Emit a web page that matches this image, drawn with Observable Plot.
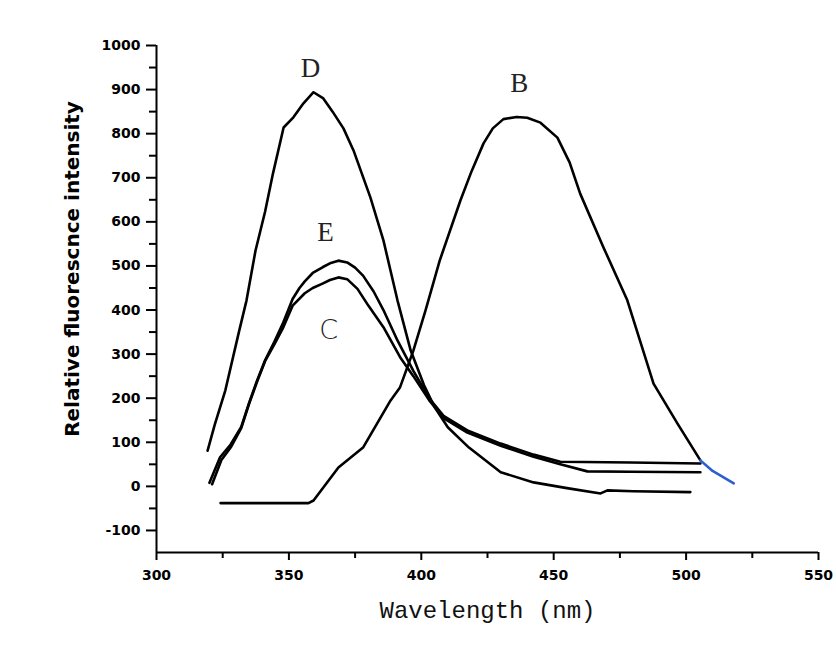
<!DOCTYPE html>
<html>
<head>
<meta charset="utf-8">
<script src="https://cdn.jsdelivr.net/npm/d3@7"></script>
<script src="https://cdn.jsdelivr.net/npm/@observablehq/plot@0.6"></script>
<style>
  html, body { margin: 0; padding: 0; background: #fff; }
  #chart svg { display: block; }
  #chart g[aria-label="x-axis tick label"] text,
  #chart g[aria-label="y-axis tick label"] text {
    font-family: "DejaVu Sans", sans-serif; font-weight: bold; font-size: 14px;
  }
</style>
</head>
<body>
<div id="chart"></div>
<script>
// Curve D
const wlD  = [319.3, 322, 326, 331, 334, 337.4, 341, 344, 348, 351.7, 355.5, 359.3, 363, 366.5, 370.6, 374.4, 380.8, 385.7, 391, 396, 401, 405, 410, 418, 430, 442.4, 455, 467.7, 470.3, 480, 501.6];
const intD = [81, 140, 218, 347, 422, 535, 623, 710, 814, 837, 869, 894, 880, 850, 812, 762, 655, 558, 422, 308, 230, 180, 134, 88, 32, 9, -4, -16, -9, -11, -13];
// Curve E
const wlE  = [320, 324, 328, 332, 335, 338, 341, 344.5, 347.6, 351.4, 354, 356, 359, 362.7, 365.5, 368.7, 372, 375, 378, 382, 385.7, 391, 397, 403, 408.4, 417.4, 430, 442.4, 452.5, 479, 505.4];
const intE = [8, 66, 95, 135, 190, 240, 286, 328, 368, 425, 450, 465, 484, 497, 506, 512, 508, 496, 478, 442, 400, 331, 262, 200, 160, 127, 97, 72, 56, 54, 52];
// Curve C
const wlC  = [321, 324.5, 328, 332, 335, 338, 341, 344.5, 347.6, 351.4, 356, 359, 362.7, 365.5, 368.7, 372, 375.9, 380, 385.7, 392, 397, 403, 408.4, 417.4, 430, 442.4, 452.5, 462.7, 479, 505.4];
const intC = [5, 60, 88, 132, 188, 238, 284, 322, 357, 410, 438, 450, 460, 468, 474, 470, 448, 410, 361, 293, 250, 195, 155, 122, 92, 67, 50, 34, 33, 32];
// Curve B
const wlB  = [324.2, 357.4, 359.3, 368.7, 378, 388.4, 392, 397, 401.6, 407, 414.8, 419, 423.5, 427, 431, 436, 440, 445, 451.4, 456, 460, 468.8, 477.8, 487.7, 496.7, 505.4];
const intB = [-38, -38, -32, 43, 88, 195, 225, 308, 399, 513, 649, 715, 778, 812, 833, 838, 836, 825, 791, 735, 664, 542, 422, 233, 143, 59];
// Blue end of curve B
const wlBtail  = [505.4, 510, 518];
const intBtail = [59, 35, 7];
// Curve labels
const curveNames = ["D", "B", "E", "C"];
const labelWl    = [358.2, 437, 363.8, 365];
const labelInt   = [948, 914, 576, 354];
// Ticks
const xTicks = [300, 350, 400, 450, 500, 550];
const xMinor = [325, 375, 425, 475, 525];
const yTicks = [-100, 0, 100, 200, 300, 400, 500, 600, 700, 800, 900, 1000];
const yMinor = [-50, 50, 150, 250, 350, 450, 550, 650, 750, 850, 950];

const toRows = (name, xs, ys) => xs.map((x, i) => ({series: name, wl: x, v: ys[i]}));
const curves = [
  ...toRows("D", wlD, intD),
  ...toRows("E", wlE, intE),
  ...toRows("C", wlC, intC),
  ...toRows("B", wlB, intB)
];
const tail = toRows("Btail", wlBtail, intBtail);
const labels = curveNames.map((n, i) => ({name: n, wl: labelWl[i], v: labelInt[i]}));

const chart = Plot.plot({
  width: 836,
  height: 650,
  marginLeft: 156,
  marginRight: 18,
  marginTop: 45,
  marginBottom: 98,
  x: {domain: [300, 550]},
  y: {domain: [-150, 1000]},
  style: {background: "white", color: "black"},
  marks: [
    Plot.axisX({ticks: xTicks, tickSize: 8, tickPadding: 10, strokeWidth: 2, tickFormat: d => String(d), label: null}),
    Plot.axisX({ticks: xMinor, tickSize: 6, strokeWidth: 2, tickFormat: () => "", label: null}),
    Plot.axisY({ticks: yTicks, tickSize: 10, tickPadding: 6, strokeWidth: 2, tickFormat: d => String(d), label: null}),
    Plot.axisY({ticks: yMinor, tickSize: 7, strokeWidth: 2, tickFormat: () => "", label: null}),
    Plot.ruleX([300], {stroke: "black", strokeWidth: 2}),
    Plot.ruleY([-150], {stroke: "black", strokeWidth: 2}),
    Plot.line(curves, {x: "wl", y: "v", z: "series", stroke: "black", strokeWidth: 2.6, curve: "linear", strokeLinejoin: "round"}),
    Plot.line(tail, {x: "wl", y: "v", stroke: "#2b5fd0", strokeWidth: 2.6}),
    Plot.text(labels.filter(d => d.name !== "C"), {x: "wl", y: "v", text: "name", fontSize: 27, fontFamily: "Liberation Serif", fill: "#222"}),
    Plot.text(labels.filter(d => d.name === "C"), {x: "wl", y: "v", text: "name", fontSize: 27, fontFamily: "DejaVu Sans", fontWeight: 300, fill: "#222"}),
    Plot.text(["Relative fluorescnce intensity"], {frameAnchor: "left", textAnchor: "middle", rotate: -90, dx: -84, dy: -30, fontSize: 20, fontWeight: "bold", fontFamily: "DejaVu Sans"}),
    Plot.text(["Wavelength (nm)"], {frameAnchor: "bottom", dy: 65, fontSize: 24, fontFamily: "Liberation Mono", fill: "#111"})
  ]
});
document.getElementById("chart").appendChild(chart);
</script>
</body>
</html>
